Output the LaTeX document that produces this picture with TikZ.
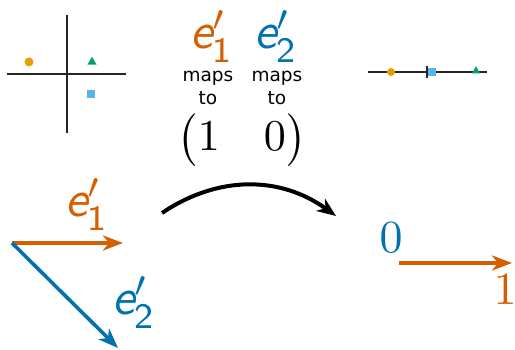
\documentclass[tikz,border=0pt]{standalone}
\usepackage{amsmath}
\usepackage[no-math]{fontspec}
\usepackage{tikz}
\usetikzlibrary{arrows.meta,shapes.geometric}
\newfontfamily\dvsans{DejaVu Sans}
\definecolor{VOrange}{HTML}{D55E00}
\definecolor{VBlue}{HTML}{0072B2}
\definecolor{PAmber}{HTML}{E69F00}
\definecolor{PGreen}{HTML}{009E73}
\definecolor{PSky}{HTML}{56B4E9}
\newcommand{\eprime}[1]{$\textsf{\itshape e}'_{\textsf{#1}}$}

\begin{document}
\begin{tikzpicture}[x=1pt,y=1pt,
  ax/.style={line width=1.3pt,color=black!85},
  dot/.style={circle,fill=PAmber,inner sep=0pt,minimum size=9pt},
  tri/.style={regular polygon,regular polygon sides=3,fill=PGreen,
    inner sep=0pt,minimum size=10.5pt},
  sq/.style={rectangle,fill=PSky,inner sep=0pt,minimum size=8pt},
  lbl/.style={inner sep=0pt,anchor=base west,scale=5.1},
  maps/.style={inner sep=0pt,anchor=base,
    font=\dvsans\fontsize{18.5}{23}\selectfont},
  num/.style={inner sep=0pt,scale=4.6},
  vec/.style={-{Stealth[length=20pt,width=15pt,inset=6pt]},line width=3.6pt},
  a/.style={-{Stealth[length=19pt,width=15pt,inset=6pt]},line width=4pt}
]
  \useasboundingbox (0,0) rectangle (515,350);
  % plane before
  \draw[ax] (7,276) -- (126,276);
  \draw[ax] (67,335) -- (67,217);
  \node[dot] (p1) at (29,288) {};
  \node[tri] (p2) at (92,288) {};
  \node[sq] (p3) at (91,256) {};
  % line after
  \draw[ax] (368,278) -- (487,278);
  \draw[ax] (427,284) -- (427,272);
  \node[dot,minimum size=8pt] (q1) at (391,278) {};
  \node[sq] (q3) at (432,278) {};
  \node[tri,minimum size=9.5pt] (q2) at (476,279) {};
  % matrix
  \node[lbl,text=VOrange] (t1) at (189,301) {\eprime{1}};
  \node[lbl,text=VBlue] (t2) at (253,301) {\eprime{2}};
  \node[maps] (m1) at (208,268) {maps};
  \node[maps] (m1b) at (208,245) {to};
  \node[maps] (m2) at (277,268) {maps};
  \node[maps] (m2b) at (277,245) {to};
  \node[inner sep=0pt,scale=4.4] (mat) at (242,210)
    {$\begin{pmatrix}1 & 0\end{pmatrix}$};
  % basis vectors
  \coordinate (o) at (12,107);
  \coordinate (b1) at (123,107);
  \coordinate (b2) at (118,2);
  \draw[vec,VOrange] (o) -- (b1);
  \draw[vec,VBlue] (o) -- (b2);
  \node[lbl,text=VOrange] (l1) at (64,133) {\eprime{1}};
  \node[lbl,text=VBlue] (l2) at (111,35) {\eprime{2}};
  % transformation
  \coordinate (c1) at (162,137);
  \coordinate (c2) at (336,134);
  \draw[a] (c1) to[bend left=35] (c2);
  % image on the number line
  \coordinate (r0) at (399,87);
  \coordinate (r1) at (512,87);
  \draw[vec,VOrange] (r0) -- (r1);
  \node[num,text=VBlue] (n0) at (391,112) {$0$};
  \node[num,text=VOrange] (n1) at (505,60) {$1$};
\end{tikzpicture}
\end{document}
